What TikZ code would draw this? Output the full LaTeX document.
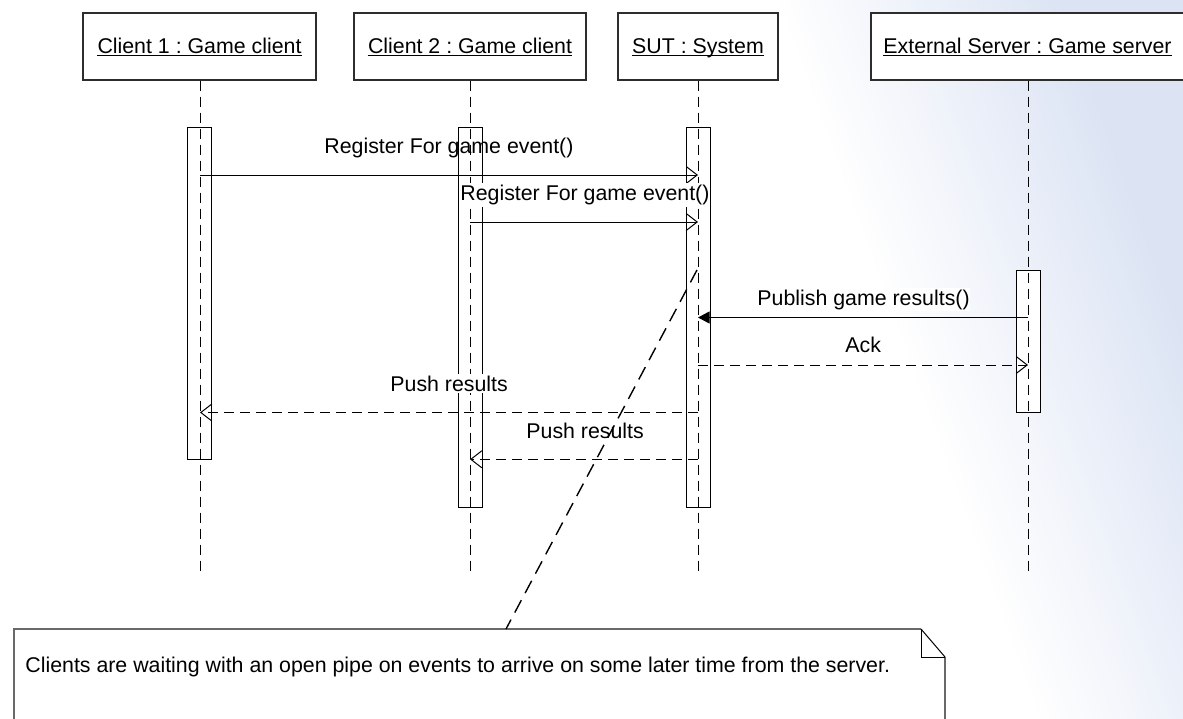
\documentclass[tikz,border=0pt]{standalone}
\usepackage{fontspec}
\setmainfont{Liberation Sans}
\usetikzlibrary{arrows.meta}
\definecolor{bgblue}{RGB}{220,228,244}
\definecolor{boxline}{RGB}{45,45,45}
\definecolor{notegray}{RGB}{105,105,105}

\begin{document}
\frenchspacing
\begin{tikzpicture}[x=0.5pt,y=-0.5pt,
  headbox/.style={draw=boxline, fill=white, line width=0.55pt, minimum height=33.5pt, inner sep=0},
  headtxt/.style={font=\fontsize{10.67}{12.8}\selectfont, inner sep=0, anchor=base},
  actbox/.style={draw=black, fill=white, line width=0.5pt, minimum width=12pt, inner sep=0},
  lifeline/.style={line width=0.5pt, dash pattern=on 5pt off 3pt},
  msg/.style={line width=0.5pt, -{Straight Barb[length=5.5pt,width=8.5pt]}},
  reply/.style={msg, dash pattern=on 5pt off 3pt},
  call/.style={line width=0.5pt, -{Triangle[length=5.75pt,width=6pt]}},
  lbl/.style={font=\fontsize{10.67}{12.8}\selectfont, inner xsep=0, inner ysep=1pt, anchor=base west},
  lblw/.style={lbl, fill=white},
  notelink/.style={line width=0.7pt, dash pattern=on 7pt off 4pt},
]
\useasboundingbox (0,0) rectangle (1183,718);
\clip (0,0) rectangle (1183,718);

% background: white fading into pale blue towards the right
\fill[white] (0,0) rectangle (1183,718);
\foreach \i in {0,...,60}{
  \pgfmathsetmacro\pa{724+4.5*\i}
  \pgfmathtruncatemacro\pc{\i*100/60}
  \fill[bgblue!\pc!white] ({(\pa-10*0.342)/0.9397},-10) -- ({(\pa+730*0.342)/0.9397},730)
    -- (1300,730) -- (1300,-10) -- cycle;
}

% object headers
\node[headbox, minimum width=116.5pt] (h1) at (199.5,46.5) {};
\node[headbox, minimum width=116pt]   (h2) at (470,46.5) {};
\node[headbox, minimum width=80pt]    (h3) at (698,46.5) {};
\node[headbox, minimum width=157pt]   (h4) at (1028,46.5) {};
\node[headtxt] (t1) at (199.5,53.3) {Client 1 : Game client};
\node[headtxt] (t2) at (470,53.3) {Client 2 : Game client};
\node[headtxt] (t3) at (698,53.3) {SUT : System};
\node[headtxt] (t4) at (1027.5,53.3) {External Server : Game server};
\foreach \t in {t1,t2,t3,t4}
  \draw[line width=0.5pt] ([yshift=-1.2pt]\t.base west) -- ([yshift=-1.2pt]\t.base east);

% activation bars
\node[actbox, minimum height=166pt]   (a1) at (199.5,293) {};
\node[actbox, minimum height=190pt]   (a2) at (470,317) {};
\node[actbox, minimum height=190pt]   (a3) at (698.5,317) {};
\node[actbox, minimum height=71.25pt] (a4) at (1028,341.25) {};

% lifelines
\coordinate (e1) at (200,575);
\coordinate (e2) at (470,575);
\coordinate (e3) at (698,575);
\coordinate (e4) at (1028,575);
\draw[lifeline] (e1 |- h1.south) -- (e1);
\draw[lifeline] (e2 |- h2.south) -- (e2);
\draw[lifeline] (e3 |- h3.south) -- (e3);
\draw[lifeline] (e4 |- h4.south) -- (e4);

% messages
\coordinate (m1a) at (200,175);    \coordinate (m1b) at (698,175);
\coordinate (m2a) at (470,222);    \coordinate (m2b) at (698,222);
\coordinate (m3a) at (1028,317.5); \coordinate (m3b) at (698,317.5);
\coordinate (m4a) at (698,365);    \coordinate (m4b) at (1028,365);
\coordinate (m5a) at (698,412.5);  \coordinate (m5b) at (200,412.5);
\coordinate (m6a) at (698,459.3);  \coordinate (m6b) at (470,459.3);
\draw[msg]   (m1a) -- (m1b);
\draw[msg]   (m2a) -- (m2b);
\draw[call]  (m3a) -- (m3b);
\draw[reply] (m4a) -- (m4b);
\draw[reply] (m5a) -- (m5b);
\draw[reply] (m6a) -- (m6b);

% message labels
\node[lbl]  (l1) at (324,153)   {Register For game event()};
\node[lblw] (l2) at (460,200.5) {Register For game event()};
\node[lblw] (l3) at (757,305)   {Publish game results()};
\node[lblw] (l4) at (845,352.3) {Ack};
\node[lblw] (l5) at (390,391)   {Push results};
\node[lblw] (l6) at (526,438.3) {Push results};

% note with folded corner
\fill[white] (14,740) -- (14,629) -- (921,629) -- (945,657) -- (945,740) -- cycle;
\draw[notegray, line width=0.75pt] (14,740) -- (14,629) -- (921,629);
\draw[notegray, line width=0.75pt] (945,657) -- (945,740);
\draw[black, line width=0.5pt] (921,629) -- (945,657);
\draw[black, line width=0.5pt] (921,629) -- (921,657) -- (945,657);
\node[lbl] (nt) at (25,672) {Clients are waiting with an open pipe on events to arrive on some later time from the server.};

% note anchor line
\coordinate (lk1) at (697,270);
\coordinate (lk2) at (506,629);
\draw[notelink] (lk1) -- (lk2);
\end{tikzpicture}
\end{document}
